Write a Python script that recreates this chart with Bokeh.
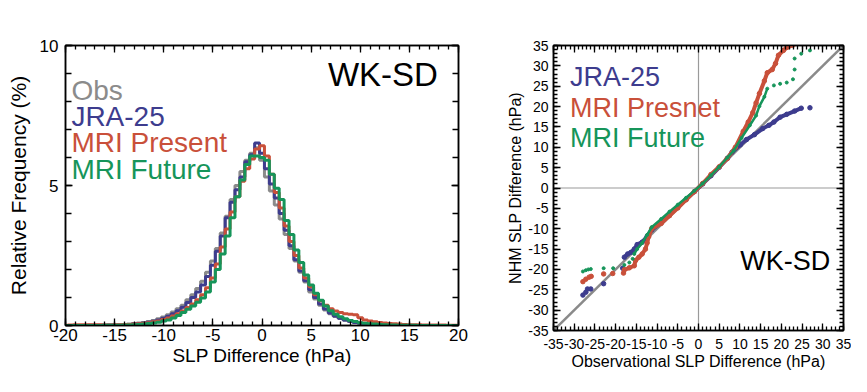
from bokeh.plotting import figure
from bokeh.layouts import row
from bokeh.models import (Range1d, SingleIntervalTicker, LinearAxis, Label, Span, Slope,
                          CustomJSTickFormatter)
from bokeh.embed import file_html
from bokeh.resources import INLINE

FONT = "Liberation Sans"
GRAY = "#8b8b8b"
BLUE = "#3d3c8e"
RED = "#c9503a"
GREEN = "#16955a"

# ---------------- Left panel: histogram (0.5 hPa bins centred on -20 ... 20) -------------
bin_centers = [(-40 + i) / 2 for i in range(81)]

obs = [
    0, 0, 0, 0, 0.01, 0.01, 0.01, 0.01, 0.02, 0.02,
    0.02, 0.03, 0.04, 0.05, 0.07, 0.09, 0.11, 0.14, 0.18, 0.24,
    0.30, 0.38, 0.48, 0.60, 0.72, 0.92, 1.10, 1.32, 1.58, 1.90,
    2.30, 2.75, 3.30, 3.90, 4.50, 5.00, 5.50, 5.90, 6.15, 6.35,
    5.90, 5.30, 4.80, 4.30, 3.80, 3.25, 2.75, 2.30, 1.90, 1.55,
    1.20, 0.95, 0.72, 0.55, 0.42, 0.32, 0.25, 0.19, 0.14, 0.11,
    0.08, 0.06, 0.05, 0.04, 0.03, 0.02, 0.02, 0.01, 0.01, 0.01,
    0.01, 0, 0, 0, 0, 0, 0, 0, 0, 0,
    0]

jra25 = [
    0, 0, 0, 0, 0, 0.01, 0.01, 0.01, 0.01, 0.02,
    0.02, 0.02, 0.03, 0.04, 0.05, 0.07, 0.09, 0.12, 0.15, 0.20,
    0.26, 0.33, 0.42, 0.53, 0.65, 0.82, 1.00, 1.20, 1.45, 1.75,
    2.15, 2.65, 3.20, 3.85, 4.40, 4.85, 5.30, 5.85, 6.10, 6.52,
    6.15, 5.60, 5.05, 4.55, 4.00, 3.40, 2.85, 2.35, 1.95, 1.60,
    1.28, 1.00, 0.77, 0.59, 0.45, 0.34, 0.26, 0.20, 0.15, 0.11,
    0.08, 0.06, 0.04, 0.03, 0.02, 0.02, 0.01, 0.01, 0.01, 0,
    0, 0, 0, 0, 0, 0, 0, 0, 0, 0,
    0]

mri_present = [
    0.01, 0.02, 0.03, 0.03, 0.03, 0.03, 0.03, 0.03, 0.02, 0.02,
    0.03, 0.03, 0.04, 0.04, 0.05, 0.06, 0.08, 0.10, 0.13, 0.16,
    0.21, 0.27, 0.34, 0.42, 0.52, 0.64, 0.77, 0.92, 1.10, 1.35,
    1.70, 2.20, 2.80, 3.45, 4.05, 4.60, 5.15, 5.60, 5.95, 6.30,
    6.42, 6.05, 5.40, 4.75, 4.20, 3.55, 3.00, 2.50, 2.05, 1.70,
    1.38, 1.10, 0.88, 0.72, 0.60, 0.52, 0.46, 0.42, 0.40, 0.38,
    0.28, 0.20, 0.16, 0.13, 0.11, 0.09, 0.07, 0.06, 0.05, 0.04,
    0.03, 0.03, 0.03, 0.02, 0.02, 0.02, 0.02, 0.02, 0.01, 0.01,
    0.01]

mri_future = [
    0, 0, 0, 0, 0, 0, 0, 0, 0.01, 0.01,
    0.01, 0.01, 0.02, 0.02, 0.03, 0.04, 0.05, 0.07, 0.09, 0.12,
    0.16, 0.20, 0.27, 0.36, 0.46, 0.58, 0.70, 0.83, 0.98, 1.20,
    1.55, 2.00, 2.55, 3.20, 3.85, 4.60, 5.20, 5.75, 6.05, 6.05,
    6.00, 5.90, 5.40, 4.90, 4.50, 3.75, 3.25, 2.70, 2.25, 1.80,
    1.45, 1.15, 0.90, 0.70, 0.53, 0.40, 0.31, 0.24, 0.18, 0.14,
    0.10, 0.08, 0.06, 0.05, 0.04, 0.03, 0.02, 0.02, 0.01, 0.01,
    0.01, 0.01, 0, 0, 0, 0, 0, 0, 0, 0,
    0]

hist_series = [("Obs", obs, GRAY), ("JRA-25", jra25, BLUE),
               ("MRI Present", mri_present, RED), ("MRI Future", mri_future, GREEN)]

# ---------------- Right panel: quantile-quantile points -------------
jra_obs = [-27.9, -27.2, -26.8, -26.0, -22.9, -18.3, -17.9, -17.1, -16.3, -15.5, -14.8, -13.6,
           -12.4, -11.3, -9.0, -7.0, -5.0, -3.0, -1.0, 1.0, 3.0, 5.0, 7.0, 8.1, 10.1, 11.6,
           13.5, 15.5, 17.0, 18.2, 19.7, 21.3, 23.2, 24.8, 26.9]
jra_nhm = [-26.3, -25.6, -24.8, -24.8, -23.5, -19.7, -17.0, -16.2, -15.8, -15.0, -13.9, -13.3,
           -11.9, -10.3, -8.5, -6.6, -4.7, -2.8, -0.9, 1.0, 3.0, 5.1, 7.3, 8.8, 10.6, 11.9,
           13.1, 14.6, 15.4, 16.2, 17.4, 18.1, 18.9, 19.6, 19.7]
jra_dense = (6, 34)

pres_obs = [-27.9, -27.2, -26.4, -25.9, -22.9, -20.7, -18.1, -17.9, -16.7, -15.5, -15.2, -14.4,
            -13.6, -12.8, -12.4, -12.0, -11.3, -9.0, -7.0, -5.0, -3.0, -1.0, 1.0, 3.0, 5.0,
            6.9, 8.9, 10.8, 12.0, 13.1, 13.9, 14.7, 15.9, 16.6, 17.8, 18.6, 19.3, 20.5,
            21.3, 22.8, 23.6]
pres_nhm = [-23.0, -22.4, -21.9, -21.7, -21.1, -21.0, -20.9, -20.1, -19.6, -19.1, -17.8, -17.0,
            -16.2, -15.0, -13.5, -11.9, -10.0, -8.7, -6.8, -4.9, -2.9, -0.9, 1.1, 3.3, 5.2,
            7.2, 10.0, 13.9, 16.2, 18.5, 20.9, 23.2, 26.3, 28.3, 29.1, 30.6, 32.6, 33.8,
            34.5, 35.1, 37.3]
pres_dense = (6, 40)

fut_obs = [-27.9, -27.2, -26.6, -26.0, -22.9, -20.6, -17.9, -16.7, -15.9, -15.5, -14.8, -13.6,
           -12.4, -11.3, -9.0, -7.0, -5.0, -3.0, -1.0, 1.0, 3.0, 5.0, 7.0, 8.5, 10.4, 12.4,
           13.9, 14.7, 15.9, 16.6, 18.2, 19.7, 21.3, 22.8, 23.2, 23.2, 24.8, 26.9]
fut_nhm = [-20.5, -20.2, -20.0, -19.9, -19.7, -19.7, -18.9, -18.3, -17.4, -16.2, -15.0, -13.5,
           -11.5, -9.6, -7.6, -5.8, -4.1, -2.4, -0.7, 1.1, 3.1, 5.2, 7.5, 9.2, 12.3, 15.4,
           17.8, 20.1, 22.4, 24.4, 25.2, 25.6, 25.9, 26.7, 29.1, 31.8, 33.0, 33.8]
fut_dense = (9, 30)

PLAIN_NUM = "return String(tick);"   # ASCII hyphen for negative ticks, as in the original

# both panels share the same top/bottom borders (a Bokeh row aligns them)
BORDER_TOP = 45
BORDER_BOTTOM = 46


def style_axis(ax, major_in, minor_in, size, standoff):
    ax.axis_line_color = "black"
    ax.axis_line_width = 1.5
    ax.major_tick_line_color = "black"
    ax.minor_tick_line_color = "black"
    ax.major_tick_line_width = 1.3
    ax.minor_tick_line_width = 1.3
    ax.major_tick_in = major_in
    ax.major_tick_out = 0
    ax.minor_tick_in = minor_in
    ax.minor_tick_out = 0
    ax.major_label_text_font = FONT
    ax.major_label_text_font_size = size
    ax.major_label_text_color = "black"
    ax.major_label_standoff = standoff
    ax.axis_label_text_font = FONT
    ax.axis_label_text_font_style = "normal"
    ax.axis_label_text_color = "black"


def hidden_axis(major_in, minor_in):
    ax = LinearAxis(ticker=SingleIntervalTicker(interval=5, num_minor_ticks=5),
                    formatter=CustomJSTickFormatter(code="return ''"))
    style_axis(ax, major_in, minor_in, "1px", 0)
    return ax


# ---------------- Left figure ----------------
p1 = figure(frame_width=393, frame_height=280, x_range=Range1d(-20, 20), y_range=Range1d(0, 10),
            output_backend="svg", toolbar_location=None,
            min_border_left=65, min_border_right=33,
            min_border_top=BORDER_TOP, min_border_bottom=BORDER_BOTTOM)
p1.xgrid.visible = False
p1.ygrid.visible = False
p1.outline_line_color = "black"
p1.outline_line_width = 1.5
p1.background_fill_color = "white"
p1.border_fill_color = "white"

p1.xaxis.ticker = SingleIntervalTicker(interval=5, num_minor_ticks=5)
p1.yaxis.ticker = SingleIntervalTicker(interval=5, num_minor_ticks=5)
p1.xaxis.formatter = CustomJSTickFormatter(code=PLAIN_NUM)
p1.yaxis.formatter = CustomJSTickFormatter(code=PLAIN_NUM)
style_axis(p1.xaxis[0], 7, 4, "17px", 3)
style_axis(p1.yaxis[0], 7, 6, "17px", 7)
p1.xaxis.axis_label = "SLP Difference (hPa)"
p1.xaxis.axis_label_text_font_size = "19px"
p1.xaxis.axis_label_standoff = 1
p1.yaxis.axis_label = "Relative Frequency (%)"
p1.yaxis.axis_label_text_font_size = "21px"
p1.yaxis.axis_label_standoff = 7
p1.add_layout(hidden_axis(7, 4), "above")
p1.add_layout(hidden_axis(7, 6), "right")

for name, vals, col in hist_series:
    p1.step(x=bin_centers, y=vals, mode="center", line_color=col, line_width=3)

legend_y1 = [8.4, 7.47, 6.52, 5.57]
for (name, vals, col), yy in zip(hist_series, legend_y1):
    p1.add_layout(Label(x=-19.4, y=yy, text=name, text_color=col, text_font=FONT,
                        text_font_size="28px", text_baseline="middle", text_align="left"))
p1.add_layout(Label(x=17.9, y=8.95, text="WK-SD", text_color="black", text_font=FONT,
                    text_font_size="33px", text_baseline="middle", text_align="right"))

# ---------------- Right figure ----------------
p2 = figure(frame_width=290, frame_height=285, x_range=Range1d(-35, 35), y_range=Range1d(-35, 35),
            output_backend="svg", toolbar_location=None,
            min_border_left=62, min_border_right=8,
            min_border_top=BORDER_TOP, min_border_bottom=BORDER_BOTTOM)
p2.xgrid.visible = False
p2.ygrid.visible = False
p2.outline_line_color = "black"
p2.outline_line_width = 1.5
p2.background_fill_color = "white"
p2.border_fill_color = "white"
p2.xaxis.ticker = SingleIntervalTicker(interval=5, num_minor_ticks=5)
p2.yaxis.ticker = SingleIntervalTicker(interval=5, num_minor_ticks=5)
p2.xaxis.formatter = CustomJSTickFormatter(code=PLAIN_NUM)
p2.yaxis.formatter = CustomJSTickFormatter(code=PLAIN_NUM)
style_axis(p2.xaxis[0], 7, 4, "14px", 8)
style_axis(p2.yaxis[0], 7, 4, "14px", 5)
p2.xaxis.axis_label = "Observational SLP Difference (hPa)"
p2.xaxis.axis_label_text_font_size = "16px"
p2.xaxis.axis_label_standoff = 1
p2.yaxis.axis_label = "NHM SLP Difference (hPa)"
p2.yaxis.axis_label_text_font_size = "16px"
p2.yaxis.axis_label_standoff = 1
p2.add_layout(hidden_axis(7, 4), "above")
p2.add_layout(hidden_axis(7, 4), "right")

p2.add_layout(Span(location=0, dimension="height", line_color="#9a9a9a", line_width=1.2, level="underlay"))
p2.add_layout(Span(location=0, dimension="width", line_color="#9a9a9a", line_width=1.2, level="underlay"))
p2.add_layout(Slope(gradient=1, y_intercept=0, line_color="#8a8a8a", line_width=2.5, level="underlay"))

qq_series = [(jra_obs, jra_nhm, jra_dense, BLUE, 4.5, 4),
             (pres_obs, pres_nhm, pres_dense, RED, 4.5, 4),
             (fut_obs, fut_nhm, fut_dense, GREEN, 3, 2.5)]
for xs, ys, (i0, i1), col, sz, lw in qq_series:
    p2.line(xs[i0:i1], ys[i0:i1], line_color=col, line_width=lw)
    p2.scatter(xs, ys, size=sz, color=col, marker="circle")

for name, col, yy in [("JRA-25", BLUE, 27.3), ("MRI Presnet", RED, 19.6), ("MRI Future", GREEN, 12.3)]:
    p2.add_layout(Label(x=-31.0, y=yy, text=name, text_color=col, text_font=FONT,
                        text_font_size="27px", text_baseline="middle", text_align="left"))
p2.add_layout(Label(x=31.8, y=-18.0, text="WK-SD", text_color="black", text_font=FONT,
                    text_font_size="27px", text_baseline="middle", text_align="right"))

layout = row(p1, p2)
open("out.html", "w").write(file_html(layout, INLINE))
